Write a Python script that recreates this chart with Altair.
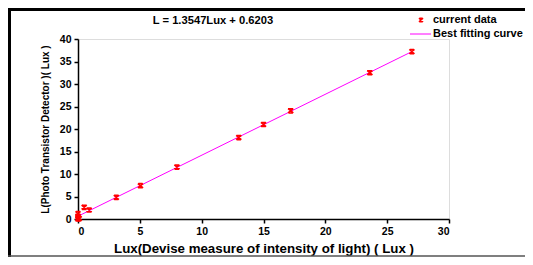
import altair as alt
import pandas as pd

# data
lux = [0.0, 0.0, 0.0, 0.0, 0.1, 0.5, 0.9, 3.1, 5.05, 8.0, 13.0, 15.0, 17.2, 23.6, 27.0]
L = [0.0, 0.2, 0.6, 1.2, 0.1, 2.6, 2.0, 4.8, 7.4, 11.55, 18.1, 21.0, 24.05, 32.5, 37.2]
fit_x = [0.0, 27.0]
fit_y = [0.62, 37.2]
title_text = "L = 1.3547Lux + 0.6203"
legend_labels = ["current data", "Best fitting curve"]
x_ticks = [0, 5, 10, 15, 20, 25, 30]
y_ticks = [0, 5, 10, 15, 20, 25, 30, 35, 40]

pts = pd.DataFrame({"x": lux, "y": L})
fit = pd.DataFrame({"x": fit_x, "y": fit_y})

FONT = "Liberation Sans"
STAR = "M-1,-0.8L1,0.8M-1,0.8L1,-0.8M-0.8,-0.8L0.8,-0.8M-0.8,0.8L0.8,0.8"

xs = alt.Scale(domain=[0, 30], nice=False, zero=True)
ys = alt.Scale(domain=[0, 40], nice=False, zero=True)

xax = alt.Axis(values=x_ticks, title="Lux(Devise measure of intensity of light) ( Lux )",
               grid=False, domainColor="black", domainWidth=1.5, tickColor="black",
               tickWidth=1.5, tickSize=4, labelFont=FONT, labelFontWeight="bold",
               labelFontSize=10.5, labelColor="black", labelPadding=3, labelOverlap=False,
               titleFont=FONT, titleFontWeight="bold", titleFontSize=13.3,
               titleColor="black", titlePadding=5)
yax = alt.Axis(values=y_ticks, title="L(Photo Transistor Detector )( Lux )",
               grid=False, domainColor="black", domainWidth=1.5, tickColor="black",
               tickWidth=1.5, tickSize=4, labelFont=FONT, labelFontWeight="bold",
               labelFontSize=10.5, labelColor="black", labelPadding=3, labelOverlap=False,
               titleFont=FONT, titleFontWeight="bold", titleFontSize=10,
               titleColor="black", titlePadding=9)

line = alt.Chart(fit).mark_line(color="#ff00ff", strokeWidth=1).encode(
    x=alt.X("x:Q", scale=xs, axis=xax),
    y=alt.Y("y:Q", scale=ys, axis=yax),
)
points = alt.Chart(pts).mark_point(shape=STAR, filled=False, color="red",
                                   strokeWidth=1.5, size=28, opacity=1).encode(
    x=alt.X("x:Q", scale=xs, axis=xax),
    y=alt.Y("y:Q", scale=ys, axis=yax),
)

base = alt.Chart(pd.DataFrame({"a": [0]}))
title = base.mark_text(text=title_text, font=FONT, fontWeight="bold", fontSize=11.2,
                       color="black", align="center", baseline="middle").encode(
    x=alt.value(135), y=alt.value(-18))
leg_pt = base.mark_point(shape=STAR, filled=False, color="red", strokeWidth=1.4,
                         size=18, opacity=1).encode(x=alt.value(343), y=alt.value(-19))
leg_t1 = base.mark_text(text=legend_labels[0], font=FONT, fontWeight="bold", fontSize=11,
                        color="black", align="left", baseline="middle").encode(
    x=alt.value(355), y=alt.value(-19))
leg_ln = base.mark_rule(color="#ff00ff", strokeWidth=1).encode(
    x=alt.value(332), x2=alt.value(353), y=alt.value(-5))
leg_t2 = base.mark_text(text=legend_labels[1], font=FONT, fontWeight="bold", fontSize=11,
                        color="black", align="left", baseline="middle").encode(
    x=alt.value(355), y=alt.value(-5))

# frame
top_b = base.mark_rule(color="black", strokeWidth=3).encode(
    x=alt.value(-70), x2=alt.value(447), y=alt.value(-29.5))
left_b = base.mark_rule(color="black", strokeWidth=3).encode(
    x=alt.value(-68.5), y=alt.value(-31), y2=alt.value(218))
bot_b = base.mark_rule(color="#555555", strokeWidth=1.5).encode(
    x=alt.value(-70), x2=alt.value(447), y=alt.value(217))

chart = alt.layer(line, points, title, leg_pt, leg_t1, leg_ln, leg_t2,
                  top_b, left_b, bot_b).properties(
    width=371, height=180,
    autosize=alt.AutoSizeParams(type="none"),
    padding={"left": 70, "top": 31, "right": 76, "bottom": 38},
).configure_view(stroke=None).configure(background="white")

chart.save("out.html", embed_options={"renderer": "svg", "actions": False})
